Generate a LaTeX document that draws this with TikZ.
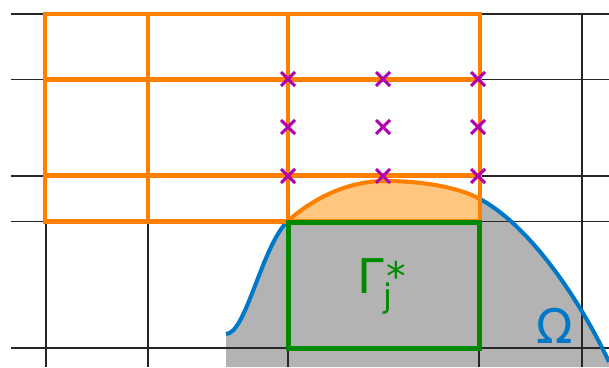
\documentclass[tikz,border=0pt]{standalone}
\usepackage{fontspec}
\setmainfont{DejaVu Sans}
\usetikzlibrary{positioning}
\definecolor{gorange}{HTML}{FF8000}
\definecolor{gpeach}{HTML}{FFC680}
\definecolor{gblue}{HTML}{0078C8}
\definecolor{ggreen}{HTML}{008A00}
\definecolor{gmag}{HTML}{B000B0}
\definecolor{ggray}{HTML}{B3B3B3}
\tikzset{
  gridl/.style={draw=black!85,line width=1.05pt},
  cell/.style={draw=gorange,line width=2.9pt,line cap=rect},
  bnd/.style={draw=gblue,line width=2.9pt},
  patch/.style={draw=ggreen,line width=3.1pt},
  xmark/.style={draw=gmag,line width=2.1pt},
  lbl/.style={inner sep=0pt,anchor=base west},
}
\begin{document}
\begin{tikzpicture}[x=0.025cm,y=-0.025cm]
  \useasboundingbox (0,0) rectangle (609,367);
  % dominio
  \fill[ggray] (226,367) -- (226,334) .. controls (246,334) and (262,245) .. (288,221)
    .. controls (310,201) and (345,181) .. (385,181) .. controls (425,181) and (460,188) .. (480,199)
    .. controls (530,226) and (580,300) .. (609,362) -- (609,367) -- cycle;
  % malha de fundo
  \foreach \y in {14,79.5,176,221.5,348} \draw[gridl] (11,\y) -- (609,\y);
  \foreach \x in {46,148,288,479,582} \draw[gridl] (\x,14) -- (\x,367);
  % parte cortada
  \fill[gpeach] (288,221) .. controls (310,201) and (345,181) .. (385,181)
    .. controls (425,181) and (460,188) .. (480,199) -- (480,221.5) -- cycle;
  % fronteira
  \draw[bnd] (226,334) .. controls (246,334) and (262,245) .. (288,221);
  \draw[bnd] (480,199) .. controls (530,226) and (580,300) .. (609,362);
  % celulas
  \foreach \x in {45,148,288,480} \draw[cell] (\x,14) -- (\x,221.5);
  \foreach \y in {14,79.5,175.5,221.5} \draw[cell] (45,\y) -- (480,\y);
  \draw[cell,line cap=butt] (288,221) .. controls (310,201) and (345,181) .. (385,181)
    .. controls (425,181) and (460,188) .. (480,199);
  \draw[patch] (288.5,222.5) rectangle (479.5,348.5);
  % pontos
  \foreach \x in {288,383,478}
    \foreach \y in {79,127,176}
      \draw[xmark] (\x-7,\y-7) -- (\x+7,\y+7) (\x-7,\y+7) -- (\x+7,\y-7);
  \node[lbl,text=ggreen] (gam) at (357,293) {\fontsize{34}{36}\selectfont Γ\fontsize{23}{26}\selectfont\rlap{\raisebox{-10pt}{j}}\hspace{1.5pt}\fontsize{28}{30}\selectfont\raisebox{1.5pt}{*}};
  \node[lbl,text=gblue] (om) at (536,343) {\fontsize{34}{36}\selectfont Ω};
\end{tikzpicture}
\end{document}
